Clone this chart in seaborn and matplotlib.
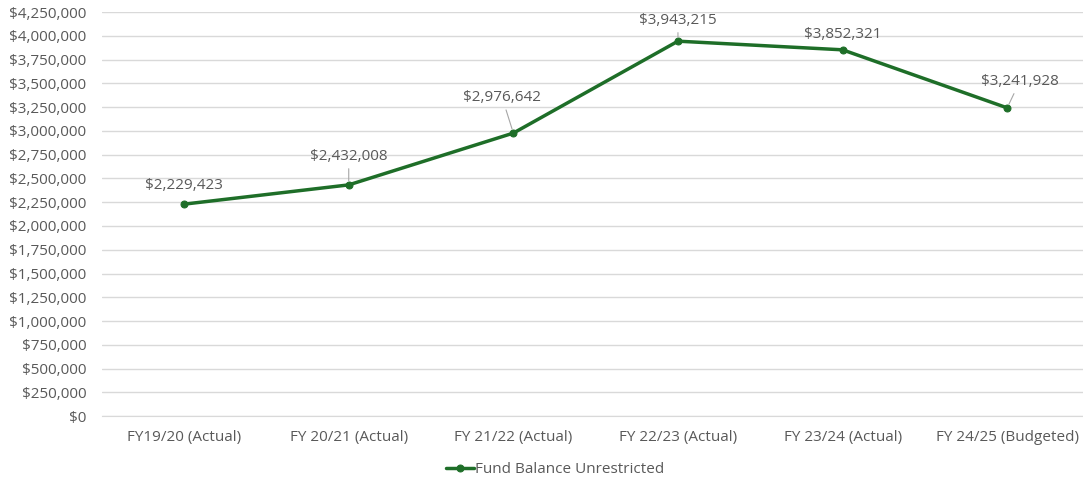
import pandas as pd
import matplotlib.pyplot as plt
import seaborn as sns
from matplotlib.ticker import FuncFormatter, MultipleLocator

# datos
years = ["FY19/20 (Actual)", "FY 20/21 (Actual)", "FY 21/22 (Actual)",
         "FY 22/23 (Actual)", "FY 23/24 (Actual)", "FY 24/25 (Budgeted)"]
balance = [2229423, 2432008, 2976642, 3943215, 3852321, 3241928]

# desplazamiento de etiquetas (puntos) y si llevan linea guia
label_dx = [0, 0, -8, 0, 0, 9]
label_dy = [8, 15, 20, 9.5, 5.5, 13.5]
leader = [False, True, True, True, False, True]

df = pd.DataFrame({"year": years, "balance": balance})

sns.set_style("white")
plt.rcParams["font.family"] = ["Open Sans", "DejaVu Sans"]

green = "#1E6E28"
gray = "#595959"

fig = plt.figure(figsize=(10.83, 4.8), dpi=100)
ax = fig.add_axes([0.094, 0.133, 0.912, 0.842])

sns.lineplot(data=df, x="year", y="balance", color=green, linewidth=2.5,
             marker="o", markersize=5, markeredgecolor=green, sort=False,
             label="Fund Balance Unrestricted", ax=ax)

for i, v in enumerate(balance):
    ax.annotate(f"${v:,.0f}", xy=(i, v), xytext=(label_dx[i], label_dy[i]),
                textcoords="offset points", ha="center", va="bottom",
                fontsize=11, color=gray,
                arrowprops=dict(arrowstyle="-", color="#A6A6A6", lw=0.8,
                                shrinkA=1, shrinkB=3) if leader[i] else None)

ax.set_ylim(0, 4250000)
ax.set_xlim(-0.5, 5.5)
ax.yaxis.set_major_locator(MultipleLocator(250000))
ax.yaxis.set_major_formatter(FuncFormatter(lambda v, p: f"${v:,.0f}"))
ax.grid(axis="y", color="#D9D9D9", linewidth=1)
ax.set_axisbelow(True)
for s in ["top", "right", "left"]:
    ax.spines[s].set_visible(False)
ax.spines["bottom"].set_color("#D9D9D9")
ax.tick_params(axis="both", length=0, labelsize=11, colors=gray)
ax.tick_params(axis="y", pad=11)
ax.tick_params(axis="x", pad=10)
ax.set_xlabel("")
ax.set_ylabel("")

ax.legend(loc="upper center", bbox_to_anchor=(0.459, -0.08), frameon=False,
          fontsize=11, labelcolor=gray, handlelength=1.8, handletextpad=0.1)

plt.savefig("out.png", dpi=100)
